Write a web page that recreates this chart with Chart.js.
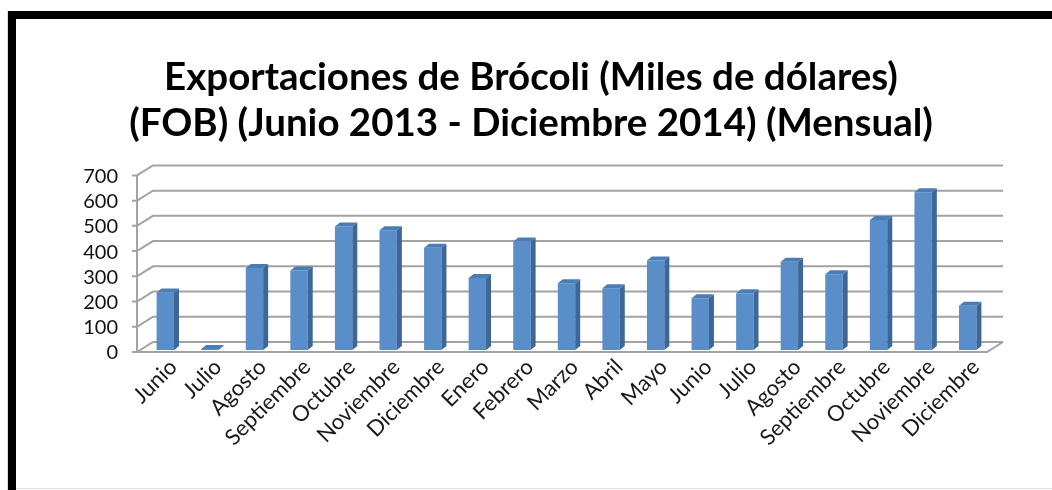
<!DOCTYPE html>
<html>
<head>
<meta charset="utf-8">
<title>Exportaciones de Brócoli</title>
<script src="https://cdn.jsdelivr.net/npm/chart.js@4.4.0/dist/chart.umd.min.js"></script>
<style>
  html, body { margin: 0; padding: 0; background: #fff; }
  #wrap { position: relative; width: 1052px; height: 490px; overflow: hidden; }
  #myChart { position: absolute; left: 0; top: 0; }
  .frame-top { position: absolute; left: 8px; top: 11px; width: 1044px; height: 8px; background: #000; }
  .frame-left { position: absolute; left: 8px; top: 11px; width: 8px; height: 479px; background: #000; }
  .edge-left { position: absolute; left: 7px; top: 11px; width: 1px; height: 479px; background: #dcdcdc; }
  .edge-bottom { position: absolute; left: 7px; top: 488px; width: 1045px; height: 1px; background: #e2e2e2; }
</style>
</head>
<body>
<div id="wrap">
  <canvas id="myChart" width="1052" height="490"></canvas>
  <div class="edge-left"></div>
  <div class="edge-bottom"></div>
  <div class="frame-top"></div>
  <div class="frame-left"></div>
</div>
<script>
// data (miles de dólares FOB)
const months = ["Junio", "Julio", "Agosto", "Septiembre", "Octubre", "Noviembre", "Diciembre",
  "Enero", "Febrero", "Marzo", "Abril", "Mayo", "Junio", "Julio", "Agosto", "Septiembre",
  "Octubre", "Noviembre", "Diciembre"];
const exportValues = [228, 4, 325, 315, 490, 475, 405, 285, 430, 265, 245, 355, 205, 225, 350, 300, 515, 625, 175];
const yTicks = [0, 100, 200, 300, 400, 500, 600, 700];
const titleLines = ["Exportaciones de Brócoli (Miles de dólares)",
  "(FOB) (Junio 2013 - Diciembre 2014) (Mensual)"];

const frontColor = "#5a8ec8";
const sideColor = "#3c6797";
const topColor = "#4a7cb6";
const gridColor = "#a3a3a3";

// fake excel 3d look
const wallDX = 16, wallDY = 10;
const barDX = 5, barDY = 4;

const fake3d = {
  id: "fake3d",
  beforeDatasetsDraw(chart) {
    const { ctx, chartArea: a, scales: { y } } = chart;
    const fl = a.left - 6, fr = a.right - 3;
    const front = v => y.getPixelForValue(v) + 2;
    const back = v => y.getPixelForValue(v) - 8;
    ctx.save();
    ctx.strokeStyle = gridColor;
    ctx.lineWidth = 2;
    ctx.lineCap = "butt";
    // back wall lines + left wall diagonals + ticks
    yTicks.forEach(v => {
      ctx.beginPath();
      ctx.moveTo(fl - 5, front(v));
      ctx.lineTo(fl, front(v));
      ctx.lineTo(fl + wallDX, back(v));
      ctx.lineTo(fr + wallDX, back(v));
      ctx.stroke();
    });
    // left wall edge
    ctx.beginPath();
    ctx.moveTo(fl, front(yTicks[0]));
    ctx.lineTo(fl, front(yTicks[yTicks.length - 1]));
    ctx.stroke();
    // floor
    ctx.beginPath();
    ctx.moveTo(fl, front(0));
    ctx.lineTo(fr, front(0));
    ctx.lineTo(fr + wallDX, back(0));
    ctx.stroke();
    ctx.restore();
  },
  afterDatasetsDraw(chart) {
    const ctx = chart.ctx;
    const meta = chart.getDatasetMeta(0);
    ctx.save();
    meta.data.forEach(bar => {
      const { x, y, base, width } = bar.getProps(["x", "y", "base", "width"], true);
      const l = x - width / 2, r = x + width / 2;
      // side
      ctx.fillStyle = sideColor;
      ctx.beginPath();
      ctx.moveTo(r, y);
      ctx.lineTo(r + barDX, y - barDY);
      ctx.lineTo(r + barDX, base - barDY);
      ctx.lineTo(r, base);
      ctx.closePath();
      ctx.fill();
      // top
      ctx.fillStyle = topColor;
      ctx.beginPath();
      ctx.moveTo(l, y);
      ctx.lineTo(l + barDX, y - barDY);
      ctx.lineTo(r + barDX, y - barDY);
      ctx.lineTo(r, y);
      ctx.closePath();
      ctx.fill();
    });
    ctx.restore();
  }
};

const chart = new Chart(document.getElementById("myChart"), {
  type: "bar",
  data: {
    labels: months,
    datasets: [{
      data: exportValues,
      backgroundColor: frontColor,
      borderWidth: 0,
      barPercentage: 0.39,
      categoryPercentage: 1
    }]
  },
  options: {
    responsive: false,
    animation: false,
    layout: { padding: { left: 10, right: 0, top: 0, bottom: 0 } },
    plugins: {
      legend: { display: false },
      tooltip: { enabled: false },
      title: {
        display: true,
        text: titleLines,
        color: "#000",
        font: { family: "Lato", size: 38.5, weight: "bold", lineHeight: 1.2 },
        padding: { top: 54, bottom: 27 }
      }
    },
    scales: {
      x: {
        grid: { display: false, drawTicks: false },
        border: { display: false },
        ticks: {
          autoSkip: false,
          maxRotation: 45,
          minRotation: 45,
          padding: 4,
          labelOffset: 8,
          color: "#1a1a1a",
          font: { family: "Lato", size: 22 }
        },
        afterFit(s) { s.height = 140; }
      },
      y: {
        min: 0,
        max: 700,
        grid: { display: false, drawTicks: false },
        border: { display: false },
        ticks: {
          stepSize: 100,
          autoSkip: false,
          padding: 25,
          labelOffset: 3,
          color: "#111",
          font: { family: "Lato", size: 20 }
        },
        afterFit(s) { s.width = 133; }
      },
      y2: {
        type: "linear",
        position: "right",
        display: true,
        grid: { display: false, drawTicks: false },
        border: { display: false },
        ticks: { display: false },
        afterFit(s) { s.width = 62; }
      }
    }
  },
  plugins: [fake3d]
});
</script>
</body>
</html>
